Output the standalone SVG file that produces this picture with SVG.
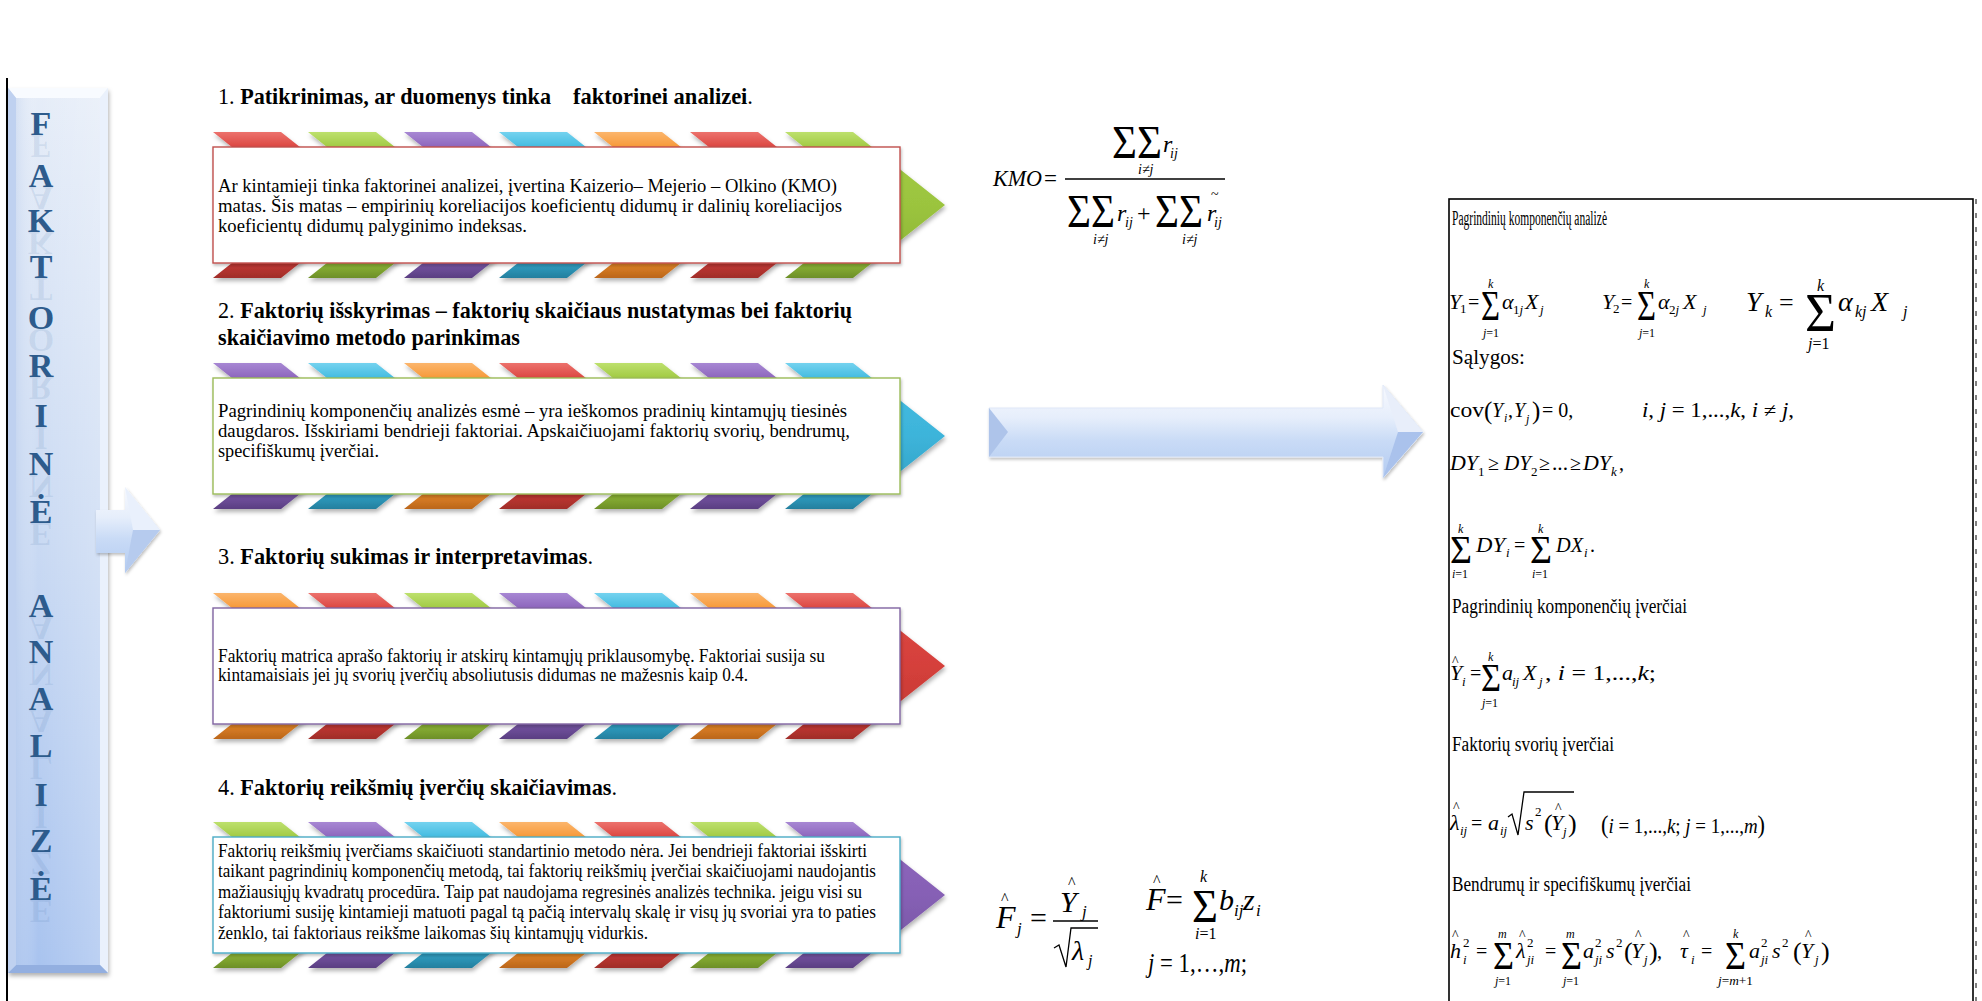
<svg xmlns="http://www.w3.org/2000/svg" xmlns:xlink="http://www.w3.org/1999/xlink" width="1982" height="1001" viewBox="0 0 1982 1001">
<style>
text{font-family:"Liberation Serif","Times New Roman",serif;fill:#000}
.mi{font-style:italic}
.t{font-size:24px}
.tb{font-size:24px;font-weight:bold}
.bx{font-size:19.5px}
.bx4{font-size:18.5px}
.lb{font-size:20px}
.let{font-size:34px;font-weight:bold;fill:#2d5b8c;text-anchor:middle}
.ref{font-size:34px;font-weight:bold;fill:#4a76aa;fill-opacity:0.13;text-anchor:middle}
.ln{stroke:#000;stroke-width:1.3;fill:none}
</style>
<defs>
<filter id="sh" x="-10%" y="-10%" width="130%" height="140%"><feDropShadow dx="1" dy="3" stdDeviation="2" flood-color="#000" flood-opacity="0.3"/></filter>
<filter id="sh2" x="-5%" y="-5%" width="110%" height="120%"><feDropShadow dx="1" dy="2" stdDeviation="1.5" flood-color="#000" flood-opacity="0.25"/></filter>
<linearGradient id="gR" x1="0" y1="0" x2="0" y2="1"><stop offset="0" stop-color="#ec716c"/><stop offset="0.1" stop-color="#dc4843"/><stop offset="0.5" stop-color="#d5403b"/><stop offset="0.9" stop-color="#c23833"/><stop offset="1" stop-color="#a02d29"/></linearGradient>
<linearGradient id="gG" x1="0" y1="0" x2="0" y2="1"><stop offset="0" stop-color="#bde06d"/><stop offset="0.1" stop-color="#a2cb45"/><stop offset="0.5" stop-color="#9bc43e"/><stop offset="0.9" stop-color="#8db535"/><stop offset="1" stop-color="#6d8f28"/></linearGradient>
<linearGradient id="gP" x1="0" y1="0" x2="0" y2="1"><stop offset="0" stop-color="#a787d3"/><stop offset="0.1" stop-color="#8e67bd"/><stop offset="0.5" stop-color="#8660b5"/><stop offset="0.9" stop-color="#7655a3"/><stop offset="1" stop-color="#5a3e82"/></linearGradient>
<linearGradient id="gC" x1="0" y1="0" x2="0" y2="1"><stop offset="0" stop-color="#74d2ef"/><stop offset="0.1" stop-color="#45bce1"/><stop offset="0.5" stop-color="#3db4da"/><stop offset="0.9" stop-color="#31a0c4"/><stop offset="1" stop-color="#247f9e"/></linearGradient>
<linearGradient id="gO" x1="0" y1="0" x2="0" y2="1"><stop offset="0" stop-color="#fbb56c"/><stop offset="0.1" stop-color="#f79a3a"/><stop offset="0.5" stop-color="#f59230"/><stop offset="0.9" stop-color="#e08326"/><stop offset="1" stop-color="#bb661b"/></linearGradient>
<linearGradient id="gBar" x1="0" y1="0" x2="0" y2="1"><stop offset="0" stop-color="#e6edf8"/><stop offset="0.5" stop-color="#cadaf3"/><stop offset="1" stop-color="#a8c3ef"/></linearGradient>
<linearGradient id="gBarH" x1="0" y1="0" x2="1" y2="0"><stop offset="0" stop-color="#9fb9e4" stop-opacity="0.5"/><stop offset="0.3" stop-color="#ffffff" stop-opacity="0"/><stop offset="1" stop-color="#ffffff" stop-opacity="0.25"/></linearGradient>
<linearGradient id="gArr" x1="0" y1="0" x2="0" y2="1"><stop offset="0" stop-color="#f7f9fe"/><stop offset="0.35" stop-color="#e6eefb"/><stop offset="0.6" stop-color="#c9dbf6"/><stop offset="1" stop-color="#b3cbf1"/></linearGradient>
<polygon id="chev" points="0,0 68,0 160,73 68,146 0,146 92,73"/>
</defs>
<rect width="1982" height="1001" fill="#fff"/>
<line x1="7" y1="78" x2="7" y2="1001" stroke="#000" stroke-width="2"/>

<g id="bar-faktorine-analize">
<rect x="8" y="88" width="100" height="885" fill="url(#gBar)" filter="url(#sh)"/>
<rect x="8" y="88" width="100" height="885" fill="url(#gBarH)"/>
<polygon points="8,88 108,88 100,98 16,98" fill="#f8fbff"/>
<polygon points="108,88 108,973 100,965 100,98" fill="#eaf1fc"/>
<polygon points="8,973 108,973 100,965 16,965" fill="#93afe0"/>
<polygon points="8,88 16,98 16,965 8,973" fill="#bfd1f0"/>
<g>
<text class="let" x="41" y="135">F</text><text class="ref" transform="translate(0,270) scale(1,-1)" x="41" y="135">F</text>
<text class="let" x="41" y="187">A</text><text class="ref" transform="translate(0,374) scale(1,-1)" x="41" y="187">A</text>
<text class="let" x="41" y="232">K</text><text class="ref" transform="translate(0,464) scale(1,-1)" x="41" y="232">K</text>
<text class="let" x="41" y="278">T</text><text class="ref" transform="translate(0,556) scale(1,-1)" x="41" y="278">T</text>
<text class="let" x="41" y="329">O</text><text class="ref" transform="translate(0,658) scale(1,-1)" x="41" y="329">O</text>
<text class="let" x="41" y="377">R</text><text class="ref" transform="translate(0,754) scale(1,-1)" x="41" y="377">R</text>
<text class="let" x="41" y="427">I</text><text class="ref" transform="translate(0,854) scale(1,-1)" x="41" y="427">I</text>
<text class="let" x="41" y="475">N</text><text class="ref" transform="translate(0,950) scale(1,-1)" x="41" y="475">N</text>
<text class="let" x="41" y="523">Ė</text><text class="ref" transform="translate(0,1046) scale(1,-1)" x="41" y="523">E</text>
<text class="let" x="41" y="617">A</text><text class="ref" transform="translate(0,1234) scale(1,-1)" x="41" y="617">A</text>
<text class="let" x="41" y="663">N</text><text class="ref" transform="translate(0,1326) scale(1,-1)" x="41" y="663">N</text>
<text class="let" x="41" y="710">A</text><text class="ref" transform="translate(0,1420) scale(1,-1)" x="41" y="710">A</text>
<text class="let" x="41" y="757">L</text><text class="ref" transform="translate(0,1514) scale(1,-1)" x="41" y="757">L</text>
<text class="let" x="41" y="806">I</text><text class="ref" transform="translate(0,1612) scale(1,-1)" x="41" y="806">I</text>
<text class="let" x="41" y="852">Z</text><text class="ref" transform="translate(0,1704) scale(1,-1)" x="41" y="852">Z</text>
<text class="let" x="41" y="900">Ė</text><text class="ref" transform="translate(0,1800) scale(1,-1)" x="41" y="900">E</text>
</g>
</g>

<g id="connectors">
<g id="arrow-left" filter="url(#sh2)">
<polygon points="96,510 125,510 125,487 160,530 125,573 125,553 96,553" fill="url(#gArr)"/>
<polygon points="125,487 160,530 133,530" fill="#e9f0fc"/>
<polygon points="125,573 160,530 133,530" fill="#b6cbee"/>
</g>
<g id="arrow-middle" filter="url(#sh2)">
<polygon points="989,408 1383,408 1383,385 1423,432 1383,478 1383,457 989,457" fill="url(#gArr)" stroke="#dfe8f7" stroke-width="1"/>
<polygon points="989,408 1008,432 989,457" fill="#aec4ea"/>
<polygon points="1383,385 1423,432 1398,432" fill="#e8eefa"/>
<polygon points="1383,478 1423,432 1398,432" fill="#aac2ec"/>
</g>
</g>

<g id="step1">
<text x="218" y="104" textLength="333" lengthAdjust="spacingAndGlyphs"><tspan class="t">1. </tspan><tspan class="tb">Patikrinimas, ar duomenys tinka</tspan></text>
<text x="573" y="104" textLength="180" lengthAdjust="spacingAndGlyphs"><tspan class="tb">faktorinei analizei</tspan><tspan class="t">.</tspan></text>
<g filter="url(#sh)">
<use href="#chev" x="213" y="132" fill="url(#gR)"/><use href="#chev" x="308" y="132" fill="url(#gG)"/><use href="#chev" x="404" y="132" fill="url(#gP)"/><use href="#chev" x="499" y="132" fill="url(#gC)"/><use href="#chev" x="594" y="132" fill="url(#gO)"/><use href="#chev" x="690" y="132" fill="url(#gR)"/><use href="#chev" x="785" y="132" fill="url(#gG)"/>
</g>
<rect x="213" y="147" width="687" height="116" fill="#fff" stroke="#c0504d" stroke-width="1.4" filter="url(#sh2)"/>
<text class="bx" x="218" y="192" textLength="619" lengthAdjust="spacingAndGlyphs">Ar kintamieji  tinka faktorinei analizei, įvertina Kaizerio– Mejerio – Olkino (KMO)</text>
<text class="bx" x="218" y="212" textLength="624" lengthAdjust="spacingAndGlyphs">matas. Šis matas – empirinių koreliacijos koeficientų didumų ir dalinių koreliacijos</text>
<text class="bx" x="218" y="232" textLength="309" lengthAdjust="spacingAndGlyphs">koeficientų didumų palyginimo indeksas.</text>
</g>

<g id="step2">
<text x="218" y="318" textLength="634" lengthAdjust="spacingAndGlyphs"><tspan class="t">2. </tspan><tspan class="tb">Faktorių išskyrimas – faktorių skaičiaus nustatymas bei faktorių</tspan></text>
<text class="tb" x="218" y="345" textLength="302" lengthAdjust="spacingAndGlyphs">skaičiavimo metodo parinkimas</text>
<g filter="url(#sh)">
<use href="#chev" x="213" y="363" fill="url(#gP)"/><use href="#chev" x="308" y="363" fill="url(#gC)"/><use href="#chev" x="404" y="363" fill="url(#gO)"/><use href="#chev" x="499" y="363" fill="url(#gR)"/><use href="#chev" x="594" y="363" fill="url(#gG)"/><use href="#chev" x="690" y="363" fill="url(#gP)"/><use href="#chev" x="785" y="363" fill="url(#gC)"/>
</g>
<rect x="213" y="378" width="687" height="116" fill="#fff" stroke="#9bbb59" stroke-width="1.4" filter="url(#sh2)"/>
<text class="bx" x="218" y="417" textLength="629" lengthAdjust="spacingAndGlyphs">Pagrindinių komponenčių analizės esmė – yra ieškomos pradinių kintamųjų tiesinės</text>
<text class="bx" x="218" y="437" textLength="632" lengthAdjust="spacingAndGlyphs">daugdaros. Išskiriami bendrieji faktoriai. Apskaičiuojami faktorių svorių, bendrumų,</text>
<text class="bx" x="218" y="457" textLength="161" lengthAdjust="spacingAndGlyphs">specifiškumų įverčiai.</text>
</g>

<g id="step3">
<text x="218" y="564" textLength="375" lengthAdjust="spacingAndGlyphs"><tspan class="t">3. </tspan><tspan class="tb">Faktorių sukimas ir interpretavimas</tspan><tspan class="t">.</tspan></text>
<g filter="url(#sh)">
<use href="#chev" x="213" y="593" fill="url(#gO)"/><use href="#chev" x="308" y="593" fill="url(#gR)"/><use href="#chev" x="404" y="593" fill="url(#gG)"/><use href="#chev" x="499" y="593" fill="url(#gP)"/><use href="#chev" x="594" y="593" fill="url(#gC)"/><use href="#chev" x="690" y="593" fill="url(#gO)"/><use href="#chev" x="785" y="593" fill="url(#gR)"/>
</g>
<rect x="213" y="608" width="687" height="116" fill="#fff" stroke="#8064a2" stroke-width="1.4" filter="url(#sh2)"/>
<text class="bx" x="218" y="662" textLength="607" lengthAdjust="spacingAndGlyphs">Faktorių matrica aprašo faktorių ir atskirų kintamųjų priklausomybę.  Faktoriai susija su</text>
<text class="bx" x="218" y="681" textLength="530" lengthAdjust="spacingAndGlyphs">kintamaisiais jei jų svorių įverčių absoliutusis didumas ne mažesnis kaip 0.4.</text>
</g>

<g id="step4">
<text x="218" y="795" textLength="399" lengthAdjust="spacingAndGlyphs"><tspan class="t">4. </tspan><tspan class="tb">Faktorių reikšmių įverčių skaičiavimas</tspan><tspan class="t">.</tspan></text>
<g filter="url(#sh)">
<use href="#chev" x="213" y="822" fill="url(#gG)"/><use href="#chev" x="308" y="822" fill="url(#gP)"/><use href="#chev" x="404" y="822" fill="url(#gC)"/><use href="#chev" x="499" y="822" fill="url(#gO)"/><use href="#chev" x="594" y="822" fill="url(#gR)"/><use href="#chev" x="690" y="822" fill="url(#gG)"/><use href="#chev" x="785" y="822" fill="url(#gP)"/>
</g>
<rect x="213" y="837" width="687" height="116" fill="#fff" stroke="#4bacc6" stroke-width="1.4" filter="url(#sh2)"/>
<text class="bx4" x="218" y="857" textLength="649" lengthAdjust="spacingAndGlyphs">Faktorių reikšmių įverčiams skaičiuoti standartinio metodo nėra. Jei bendrieji faktoriai išskirti</text>
<text class="bx4" x="218" y="877" textLength="658" lengthAdjust="spacingAndGlyphs">taikant pagrindinių komponenčių metodą, tai faktorių reikšmių įverčiai skaičiuojami naudojantis</text>
<text class="bx4" x="218" y="898" textLength="644" lengthAdjust="spacingAndGlyphs">mažiausiųjų kvadratų procedūra. Taip pat naudojama regresinės analizės technika. jeigu visi su</text>
<text class="bx4" x="218" y="918" textLength="658" lengthAdjust="spacingAndGlyphs">faktoriumi susiję kintamieji matuoti pagal tą pačią intervalų skalę ir visų jų svoriai yra to paties</text>
<text class="bx4" x="218" y="939" textLength="430" lengthAdjust="spacingAndGlyphs">ženklo, tai faktoriaus reikšme laikomas šių kintamųjų vidurkis.</text>
</g>

<g id="kmo-formula">
<text class="mi" x="993" y="186" font-size="23" textLength="49" lengthAdjust="spacingAndGlyphs">KMO</text>
<text x="1044" y="186" font-size="23">=</text>
<line class="ln" x1="1065" y1="179" x2="1225" y2="179"/>
<text x="1112" y="158" font-size="46" textLength="50" lengthAdjust="spacingAndGlyphs">ΣΣ</text>
<text class="mi" x="1163" y="152" font-size="24">r</text>
<text class="mi" x="1170" y="158" font-size="14">ij</text>
<text class="mi" x="1138" y="174" font-size="14">i≠j</text>
<text x="1067" y="227" font-size="46" textLength="48" lengthAdjust="spacingAndGlyphs">ΣΣ</text>
<text class="mi" x="1117" y="221" font-size="24">r</text>
<text class="mi" x="1125" y="227" font-size="14">ij</text>
<text x="1137" y="221" font-size="24">+</text>
<text x="1155" y="227" font-size="46" textLength="48" lengthAdjust="spacingAndGlyphs">ΣΣ</text>
<text class="mi" x="1207" y="221" font-size="24">r</text>
<text class="mi" x="1214" y="227" font-size="14">ij</text>
<text x="1211" y="199" font-size="14">~</text>
<text class="mi" x="1093" y="244" font-size="14">i≠j</text>
<text class="mi" x="1182" y="244" font-size="14">i≠j</text>
</g>

<g id="fhat-formula">
<text x="1001" y="904" font-size="16">^</text>
<text class="mi" x="996" y="928" font-size="32">F</text>
<text class="mi" x="1017" y="934" font-size="17">j</text>
<text x="1030" y="928" font-size="30">=</text>
<line class="ln" x1="1053" y1="921" x2="1098" y2="921"/>
<text x="1068" y="888" font-size="16">^</text>
<text class="mi" x="1060" y="912" font-size="30">Y</text>
<text class="mi" x="1082" y="917" font-size="17">j</text>
<path class="ln" d="M1054,948 L1059,945 L1066,967 L1071,928 L1098,928"/>
<text class="mi" x="1072" y="960" font-size="28">λ</text>
<text class="mi" x="1088" y="966" font-size="16">j</text>
<text x="1153" y="886" font-size="16">^</text>
<text class="mi" x="1146" y="910" font-size="32">F</text>
<text x="1166" y="910" font-size="30">=</text>
<text x="1192" y="922" font-size="46" textLength="26" lengthAdjust="spacingAndGlyphs">Σ</text>
<text class="mi" x="1200" y="882" font-size="16">k</text>
<text x="1195" y="939" font-size="16"><tspan class="mi">i</tspan>=1</text>
<text class="mi" x="1219" y="910" font-size="30">b</text>
<text class="mi" x="1234" y="916" font-size="17">ij</text>
<text class="mi" x="1243" y="910" font-size="30">z</text>
<text class="mi" x="1256" y="916" font-size="17">i</text>
<text x="1148" y="972" font-size="27" textLength="99" lengthAdjust="spacingAndGlyphs"><tspan class="mi">j</tspan> = 1,…,<tspan class="mi">m</tspan>;</text>
</g>

<g id="pca-panel">
<rect x="1449" y="199" width="524" height="830" fill="#fff" stroke="#000" stroke-width="1.6"/>
<line x1="1976" y1="199" x2="1976" y2="1001" stroke="#000" stroke-width="1" stroke-dasharray="5 9"/>
<g transform="translate(5,0)">
<text class="lb" x="1447" y="225" textLength="155" lengthAdjust="spacingAndGlyphs">Pagrindinių komponenčių analizė</text>
<text class="mi" x="1444" y="309" font-size="22">Y</text>
<text x="1455" y="313" font-size="13">1</text>
<text x="1463" y="309" font-size="20">=</text>
<text x="1476" y="320" font-size="42" textLength="19" lengthAdjust="spacingAndGlyphs">Σ</text>
<text class="mi" x="1483" y="288" font-size="12">k</text>
<text x="1478" y="337" font-size="12"><tspan class="mi">j</tspan>=1</text>
<text class="mi" x="1497" y="309" font-size="22">α</text>
<text x="1508" y="314" font-size="13">1<tspan class="mi">j</tspan></text>
<text class="mi" x="1520" y="309" font-size="22">X</text>
<text class="mi" x="1535" y="314" font-size="13">j</text>
<text class="mi" x="1597" y="309" font-size="22">Y</text>
<text x="1608" y="313" font-size="13">2</text>
<text x="1616" y="309" font-size="20">=</text>
<text x="1632" y="320" font-size="42" textLength="19" lengthAdjust="spacingAndGlyphs">Σ</text>
<text class="mi" x="1639" y="288" font-size="12">k</text>
<text x="1634" y="337" font-size="12"><tspan class="mi">j</tspan>=1</text>
<text class="mi" x="1653" y="309" font-size="22">α</text>
<text x="1664" y="314" font-size="13">2<tspan class="mi">j</tspan></text>
<text class="mi" x="1678" y="309" font-size="22">X</text>
<text class="mi" x="1698" y="314" font-size="13">j</text>
<text class="mi" x="1741" y="311" font-size="28">Y</text>
<text class="mi" x="1760" y="317" font-size="16">k</text>
<text x="1774" y="311" font-size="26">=</text>
<text x="1800" y="331" font-size="54" textLength="31" lengthAdjust="spacingAndGlyphs">Σ</text>
<text class="mi" x="1812" y="291" font-size="16">k</text>
<text x="1803" y="349" font-size="16"><tspan class="mi">j</tspan>=1</text>
<text class="mi" x="1833" y="311" font-size="28">α</text>
<text class="mi" x="1850" y="317" font-size="16">kj</text>
<text class="mi" x="1866" y="311" font-size="28">X</text>
<text class="mi" x="1898" y="317" font-size="16">j</text>

<text class="lb" x="1447" y="364" textLength="73" lengthAdjust="spacingAndGlyphs">Sąlygos:</text>
<text x="1445" y="417" font-size="20" textLength="34" lengthAdjust="spacingAndGlyphs">cov</text>
<text x="1479" y="419" font-size="25">(</text>
<text class="mi" x="1487" y="417" font-size="20">Y</text>
<text class="mi" x="1499" y="422" font-size="12">i</text>
<text x="1503" y="417" font-size="20">,</text>
<text class="mi" x="1509" y="417" font-size="20">Y</text>
<text class="mi" x="1521" y="423" font-size="12">j</text>
<text x="1527" y="419" font-size="25">)</text>
<text x="1537" y="417" font-size="20">= 0,</text>
<text x="1637" y="417" font-size="20" textLength="152" lengthAdjust="spacingAndGlyphs"><tspan class="mi">i</tspan>, <tspan class="mi">j</tspan> = 1,...,<tspan class="mi">k</tspan>, <tspan class="mi">i</tspan> ≠ <tspan class="mi">j</tspan>,</text>
<text class="mi" x="1445" y="470" font-size="22" textLength="28" lengthAdjust="spacingAndGlyphs">DY</text>
<text x="1473" y="476" font-size="13">1</text>
<text x="1483" y="470" font-size="20">≥</text>
<text class="mi" x="1499" y="470" font-size="22" textLength="27" lengthAdjust="spacingAndGlyphs">DY</text>
<text x="1526" y="476" font-size="13">2</text>
<text x="1534" y="470" font-size="20">≥</text>
<text x="1547" y="470" font-size="20" textLength="16" lengthAdjust="spacingAndGlyphs">...</text>
<text x="1565" y="470" font-size="20">≥</text>
<text class="mi" x="1578" y="470" font-size="22" textLength="28" lengthAdjust="spacingAndGlyphs">DY</text>
<text class="mi" x="1606" y="476" font-size="13">k</text>
<text x="1614" y="470" font-size="20">,</text>
<text x="1445" y="563" font-size="40" textLength="22" lengthAdjust="spacingAndGlyphs">Σ</text>
<text class="mi" x="1453" y="533" font-size="12">k</text>
<text x="1447" y="578" font-size="12"><tspan class="mi">i</tspan>=1</text>
<text class="mi" x="1471" y="552" font-size="22" textLength="29" lengthAdjust="spacingAndGlyphs">DY</text>
<text class="mi" x="1501" y="557" font-size="13">i</text>
<text x="1509" y="552" font-size="20">=</text>
<text x="1525" y="563" font-size="40" textLength="22" lengthAdjust="spacingAndGlyphs">Σ</text>
<text class="mi" x="1533" y="533" font-size="12">k</text>
<text x="1527" y="578" font-size="12"><tspan class="mi">i</tspan>=1</text>
<text class="mi" x="1551" y="552" font-size="22" textLength="27" lengthAdjust="spacingAndGlyphs">DX</text>
<text class="mi" x="1579" y="557" font-size="13">i</text>
<text x="1585" y="552" font-size="20">.</text>

<text class="lb" x="1447" y="613" textLength="235" lengthAdjust="spacingAndGlyphs">Pagrindinių komponenčių įverčiai</text>
<text x="1447" y="666" font-size="14">^</text>
<text class="mi" x="1445" y="680" font-size="22">Y</text>
<text class="mi" x="1457" y="686" font-size="13">i</text>
<text x="1465" y="680" font-size="20">=</text>
<text x="1476" y="691" font-size="40" textLength="20" lengthAdjust="spacingAndGlyphs">Σ</text>
<text class="mi" x="1483" y="661" font-size="12">k</text>
<text x="1477" y="707" font-size="12"><tspan class="mi">j</tspan>=1</text>
<text class="mi" x="1497" y="680" font-size="22">a</text>
<text class="mi" x="1507" y="686" font-size="13">ij</text>
<text class="mi" x="1518" y="680" font-size="22">X</text>
<text class="mi" x="1534" y="686" font-size="13">j</text>
<text x="1540" y="680" font-size="20" textLength="111" lengthAdjust="spacingAndGlyphs">, <tspan class="mi">i</tspan> = 1,...,<tspan class="mi">k</tspan>;</text>

<text class="lb" x="1447" y="751" textLength="162" lengthAdjust="spacingAndGlyphs">Faktorių svorių įverčiai</text>
<text x="1448" y="812" font-size="14">^</text>
<text class="mi" x="1445" y="830" font-size="22">λ</text>
<text class="mi" x="1455" y="835" font-size="13">ij</text>
<text x="1466" y="830" font-size="20">=</text>
<text class="mi" x="1483" y="830" font-size="22">a</text>
<text class="mi" x="1495" y="835" font-size="13">ij</text>
<path class="ln" d="M1503,817 L1507,814 L1513,835 L1519,792 L1569,792"/>
<text class="mi" x="1520" y="830" font-size="22">s</text>
<text x="1530" y="816" font-size="13">2</text>
<text x="1539" y="832" font-size="26">(</text>
<text x="1550" y="813" font-size="14">^</text>
<text class="mi" x="1546" y="830" font-size="22">Y</text>
<text class="mi" x="1558" y="836" font-size="13">j</text>
<text x="1563" y="832" font-size="26">)</text>
<text x="1596" y="833" font-size="22" textLength="164" lengthAdjust="spacingAndGlyphs"><tspan font-size="26">(</tspan><tspan class="mi">i</tspan> = 1,...,<tspan class="mi">k</tspan>; <tspan class="mi">j</tspan> = 1,...,<tspan class="mi">m</tspan><tspan font-size="26">)</tspan></text>

<text class="lb" x="1447" y="891" textLength="239" lengthAdjust="spacingAndGlyphs">Bendrumų ir specifiškumų įverčiai</text>
<text x="1447" y="940" font-size="14">^</text>
<text class="mi" x="1445" y="958" font-size="22">h</text>
<text x="1458" y="947" font-size="13">2</text>
<text class="mi" x="1458" y="964" font-size="13">i</text>
<text x="1471" y="958" font-size="20">=</text>
<text x="1488" y="969" font-size="40" textLength="21" lengthAdjust="spacingAndGlyphs">Σ</text>
<text class="mi" x="1493" y="938" font-size="12">m</text>
<text x="1490" y="985" font-size="12"><tspan class="mi">j</tspan>=1</text>
<text x="1514" y="940" font-size="14">^</text>
<text class="mi" x="1511" y="958" font-size="22">λ</text>
<text x="1522" y="947" font-size="13">2</text>
<text class="mi" x="1522" y="964" font-size="13">ji</text>
<text x="1540" y="958" font-size="20">=</text>
<text x="1556" y="969" font-size="40" textLength="21" lengthAdjust="spacingAndGlyphs">Σ</text>
<text class="mi" x="1561" y="938" font-size="12">m</text>
<text x="1558" y="985" font-size="12"><tspan class="mi">j</tspan>=1</text>
<text class="mi" x="1578" y="958" font-size="22">a</text>
<text x="1590" y="947" font-size="13">2</text>
<text class="mi" x="1590" y="964" font-size="13">ji</text>
<text class="mi" x="1601" y="958" font-size="22">s</text>
<text x="1611" y="947" font-size="13">2</text>
<text x="1619" y="960" font-size="26">(</text>
<text x="1630" y="940" font-size="14">^</text>
<text class="mi" x="1626" y="958" font-size="22">Y</text>
<text class="mi" x="1639" y="964" font-size="13">j</text>
<text x="1644" y="960" font-size="26">)</text>
<text x="1652" y="958" font-size="20">,</text>
<text x="1678" y="940" font-size="14">^</text>
<text class="mi" x="1675" y="958" font-size="22">τ</text>
<text class="mi" x="1686" y="964" font-size="13">i</text>
<text x="1696" y="958" font-size="20">=</text>
<text x="1720" y="969" font-size="40" textLength="21" lengthAdjust="spacingAndGlyphs">Σ</text>
<text class="mi" x="1728" y="938" font-size="12">k</text>
<text x="1713" y="985" font-size="12" textLength="35" lengthAdjust="spacingAndGlyphs"><tspan class="mi">j</tspan>=<tspan class="mi">m</tspan>+1</text>
<text class="mi" x="1744" y="958" font-size="22">a</text>
<text x="1756" y="947" font-size="13">2</text>
<text class="mi" x="1756" y="964" font-size="13">ji</text>
<text class="mi" x="1767" y="958" font-size="22">s</text>
<text x="1777" y="947" font-size="13">2</text>
<text x="1788" y="960" font-size="26">(</text>
<text x="1800" y="940" font-size="14">^</text>
<text class="mi" x="1796" y="958" font-size="22">Y</text>
<text class="mi" x="1810" y="964" font-size="13">j</text>
<text x="1816" y="960" font-size="26">)</text>
</g>
</g>
</svg>
